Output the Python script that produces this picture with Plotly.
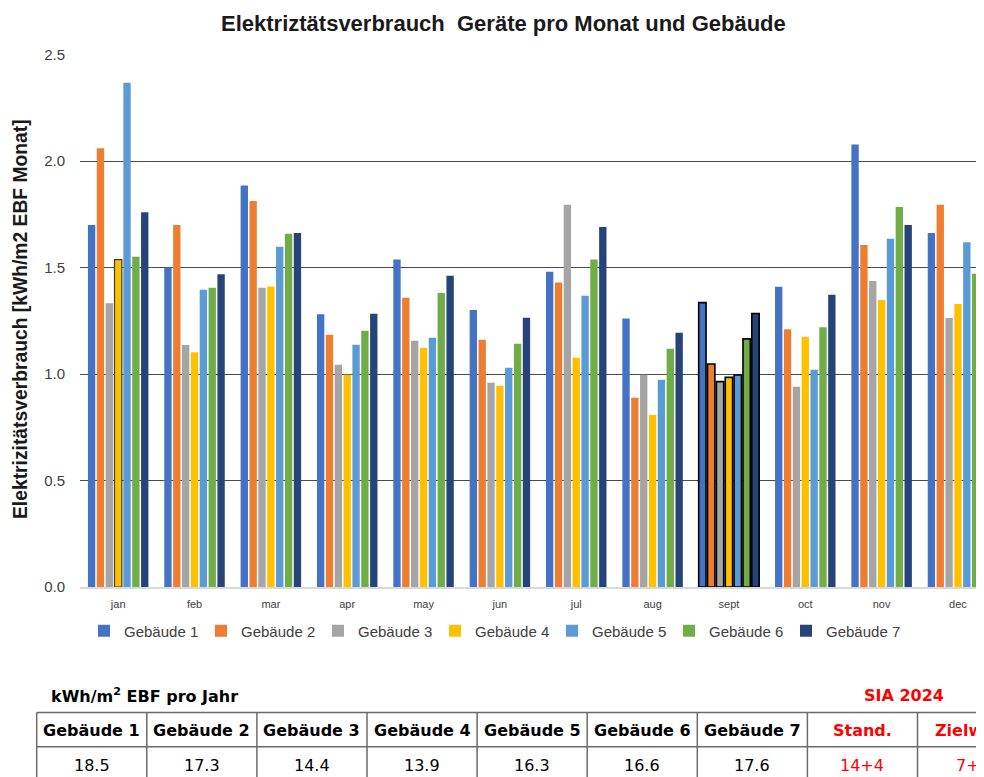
import plotly.graph_objects as go

OFF = 8  # default page body margin
W, H = 984 - OFF, 777 - OFF

months = ["jan", "feb", "mar", "apr", "may", "jun", "jul", "aug", "sept", "oct", "nov", "dec"]
series_names = ["Gebäude 1", "Gebäude 2", "Gebäude 3", "Gebäude 4", "Gebäude 5", "Gebäude 6", "Gebäude 7"]
colors = ["#4472C4", "#ED7D31", "#A5A5A5", "#FFC000", "#5B9BD5", "#70AD47", "#264478"]

g1 = [1.70, 1.50, 1.885, 1.28, 1.537, 1.30, 1.48, 1.26, 1.335, 1.41, 2.078, 1.662]
g2 = [2.06, 1.70, 1.812, 1.184, 1.358, 1.161, 1.43, 0.888, 1.047, 1.21, 1.606, 1.795]
g3 = [1.332, 1.136, 1.405, 1.043, 1.156, 0.959, 1.795, 0.996, 0.964, 0.94, 1.437, 1.263]
g4 = [1.537, 1.102, 1.411, 0.996, 1.123, 0.945, 1.076, 0.808, 0.984, 1.175, 1.347, 1.329]
g5 = [2.367, 1.395, 1.597, 1.137, 1.17, 1.029, 1.367, 0.973, 0.995, 1.02, 1.635, 1.618]
g6 = [1.55, 1.405, 1.659, 1.203, 1.38, 1.142, 1.537, 1.118, 1.165, 1.22, 1.784, 1.471]
g7 = [1.759, 1.468, 1.662, 1.283, 1.461, 1.264, 1.69, 1.194, 1.284, 1.372, 1.70, 1.485]
series_values = [g1, g2, g3, g4, g5, g6, g7]

y_ticks = [0.0, 0.5, 1.0, 1.5, 2.0, 2.5]

table_headers = ["Gebäude 1", "Gebäude 2", "Gebäude 3", "Gebäude 4", "Gebäude 5",
                 "Gebäude 6", "Gebäude 7", "Stand.", "Zielwert"]
table_values = ["18.5", "17.3", "14.4", "13.9", "16.3", "16.6", "17.6", "14+4", "7+2"]
table_red = [False] * 7 + [True, True]

title_text = "Elektriztätsverbrauch  Geräte pro Monat und Gebäude"
ytitle_text = "Elektrizitätsverbrauch [kWh/m2 EBF Monat]"


def px(x):
    return (x - OFF) / W


def py(y):
    return 1 - (y - OFF) / H


# draw order: start from feb so the legend swatch takes a plain (un-outlined) point
order = list(range(1, len(months))) + [0]

fig = go.Figure()
for i, (name, vals) in enumerate(zip(series_names, series_values)):
    lw = [0.0] * len(months)
    lc = ["rgba(0,0,0,0)"] * len(months)
    lw[8] = 1.6
    lc[8] = "#000000"
    if i == 3:
        lw[0] = 1.2
        lc[0] = "#3a3a3a"
    fig.add_trace(go.Bar(
        x=[months[k] for k in order], y=[vals[k] for k in order], name=name,
        marker=dict(color=colors[i],
                    line=dict(color=[lc[k] for k in order], width=[lw[k] for k in order])),
    ))

plot_left = 80
cat_w = 76.36
jan_c = 118
x_max = (984 - jan_c) / cat_w

fig.update_layout(
    width=W, height=H,
    template="none",
    paper_bgcolor="white", plot_bgcolor="white",
    margin=dict(l=0, r=0, t=0, b=0, pad=0),
    barmode="group", bargap=0.188, bargroupgap=0.17,
    font=dict(family="Liberation Sans, Arial", color="#404040"),
    showlegend=True,
    legend=dict(
        orientation="h", x=px(84), xanchor="left", y=py(631), yanchor="middle",
        font=dict(size=15, color="#404040", family="Liberation Sans, Arial"),
        entrywidth=72, entrywidthmode="pixels", bgcolor="rgba(0,0,0,0)",
        itemwidth=30, tracegroupgap=0,
    ),
    xaxis=dict(
        domain=[px(plot_left), 1], range=[-0.5, x_max], type="category",
        categoryorder="array", categoryarray=months,
        showgrid=False, showline=True, linecolor="#d9d9d9", linewidth=1.5,
        ticks="", tickfont=dict(size=11, color="#404040"), ticklabelstandoff=6,
        automargin=False, zeroline=False,
    ),
    yaxis=dict(
        domain=[py(587), py(54.5)], range=[0, 2.5],
        tickvals=y_ticks, ticktext=[f"{v:.1f}" for v in y_ticks],
        showgrid=True, gridcolor="#4a4a4a", gridwidth=1.4,
        showline=False, zeroline=False, ticks="",
        tickfont=dict(size=15, color="#404040"), ticklabelstandoff=14,
        automargin=False,
    ),
)

fig.add_annotation(x=px(503), y=py(24), xref="paper", yref="paper", text=f"<b>{title_text}</b>",
                   showarrow=False, font=dict(size=22, color="#1a1a1a", family="Liberation Sans, Arial"),
                   xanchor="center", yanchor="middle")
fig.add_annotation(x=px(20), y=py(319), xref="paper", yref="paper", text=f"<b>{ytitle_text}</b>",
                   showarrow=False, textangle=-90,
                   font=dict(size=19.3, color="#1a1a1a", family="Liberation Sans, Arial"),
                   xanchor="center", yanchor="middle")

# Table below the chart
tfont = "DejaVu Sans, Verdana"
fig.add_annotation(x=px(49), y=py(695), xref="paper", yref="paper",
                   text="<b>kWh/m<sup>2</sup> EBF pro Jahr</b>", showarrow=False,
                   font=dict(size=16, color="#000000", family=tfont), xanchor="left", yanchor="middle")
fig.add_annotation(x=px(904), y=py(695), xref="paper", yref="paper",
                   text="<b>SIA 2024</b>", showarrow=False,
                   font=dict(size=16, color="#ff0000", family=tfont), xanchor="center", yanchor="middle")

col_left = 36.7
col_w = 110.1
row_top = 712.5
row_mid = 746.7
row_bot = 790
line_style = dict(color="#6b6b6b", width=1.5)
n = len(table_headers)
for k in range(n + 1):
    xk = col_left + k * col_w
    fig.add_shape(type="line", xref="paper", yref="paper", x0=px(xk), x1=px(xk),
                  y0=py(row_top), y1=py(row_bot), line=line_style)
for yy in (row_top, row_mid):
    fig.add_shape(type="line", xref="paper", yref="paper", x0=px(col_left), x1=px(col_left + n * col_w),
                  y0=py(yy), y1=py(yy), line=line_style)
for k, (hdr, val, red) in enumerate(zip(table_headers, table_values, table_red)):
    cx = col_left + (k + 0.5) * col_w
    c = "#ff0000" if red else "#000000"
    fig.add_annotation(x=px(cx), y=py(730.5), xref="paper", yref="paper", text=f"<b>{hdr}</b>",
                       showarrow=False, font=dict(size=16, color=c, family=tfont),
                       xanchor="center", yanchor="middle")
    fig.add_annotation(x=px(cx), y=py(765), xref="paper", yref="paper", text=val,
                       showarrow=False, font=dict(size=16, color=c, family=tfont),
                       xanchor="center", yanchor="middle")

fig.write_html("out.html")
